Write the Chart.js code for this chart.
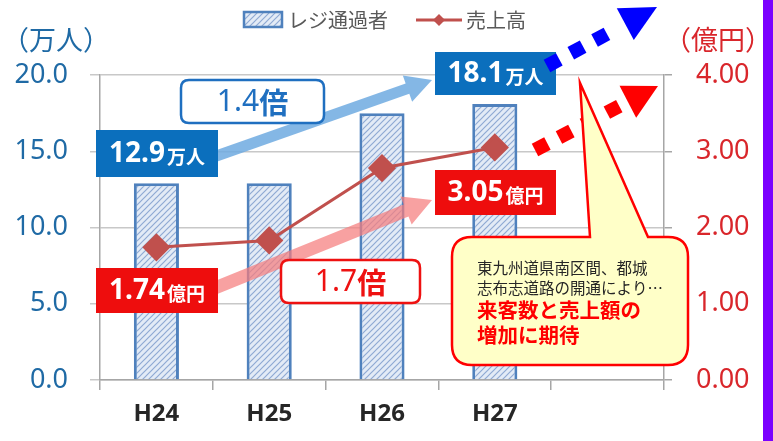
<!DOCTYPE html>
<html>
<head>
<meta charset="utf-8">
<script src="https://cdn.jsdelivr.net/npm/chart.js@4"></script>
<style>
  body { margin: 0; background: #fff; }
  #wrap { position: relative; width: 773px; height: 441px; }
  #strip { position: absolute; right: 0; top: 0; width: 10px; height: 441px; background: #7b00ff; }
</style>
</head>
<body>
<div id="wrap">
  <canvas id="chart" width="773" height="441"></canvas>
  <div id="strip"></div>
</div>
<script>
'use strict';

// chart data
var years = ['H24', 'H25', 'H26', 'H27', ''];
var visitors = [12.9, 12.9, 17.5, 18.1, null];   // 万人
var sales = [1.74, 1.83, 2.78, 3.05, null];      // 億円
var leftTicks = [0, 5, 10, 15, 20];
var rightTicks = [0, 1, 2, 3, 4];
var ratios = ['1.4', '1.7'];   // as printed on the chart

var FONT = "'Noto Sans', 'Noto Sans CJK JP', sans-serif";
var JP = "'Noto Sans CJK JP', sans-serif";

// hatched fill for the bars
function makeHatch() {
	var c = document.createElement('canvas');
	c.width = 6; c.height = 6;
	var g = c.getContext('2d');
	g.fillStyle = '#e3ebf6';
	g.fillRect(0, 0, 6, 6);
	g.strokeStyle = '#8fa9d3';
	g.lineWidth = 1.2;
	g.beginPath();
	g.moveTo(0, 6); g.lineTo(6, 0);
	g.moveTo(-1, 1); g.lineTo(1, -1);
	g.moveTo(5, 7); g.lineTo(7, 5);
	g.stroke();
	return document.getElementById('chart').getContext('2d').createPattern(c, 'repeat');
}
var hatch = makeHatch();

function roundRect(ctx, x, y, w, h, r) {
	ctx.beginPath();
	ctx.moveTo(x + r, y);
	ctx.lineTo(x + w - r, y);
	ctx.quadraticCurveTo(x + w, y, x + w, y + r);
	ctx.lineTo(x + w, y + h - r);
	ctx.quadraticCurveTo(x + w, y + h, x + w - r, y + h);
	ctx.lineTo(x + r, y + h);
	ctx.quadraticCurveTo(x, y + h, x, y + h - r);
	ctx.lineTo(x, y + r);
	ctx.quadraticCurveTo(x, y, x + r, y);
	ctx.closePath();
}

function thickArrow(ctx, x1, y1, x2, y2, w, headLen, headW, color) {
	var a = Math.atan2(y2 - y1, x2 - x1);
	var len = Math.hypot(x2 - x1, y2 - y1);
	ctx.save();
	ctx.translate(x1, y1);
	ctx.rotate(a);
	ctx.fillStyle = color;
	ctx.beginPath();
	ctx.moveTo(0, -w / 2);
	ctx.lineTo(len - headLen, -w / 2);
	ctx.lineTo(len - headLen, -headW / 2);
	ctx.lineTo(len, 0);
	ctx.lineTo(len - headLen, headW / 2);
	ctx.lineTo(len - headLen, w / 2);
	ctx.lineTo(0, w / 2);
	ctx.closePath();
	ctx.fill();
	ctx.restore();
}

function dottedArrow(ctx, x1, y1, x2, y2, sq, gap, headLen, headW, color) {
	var a = Math.atan2(y2 - y1, x2 - x1);
	var len = Math.hypot(x2 - x1, y2 - y1);
	ctx.save();
	ctx.translate(x1, y1);
	ctx.rotate(a);
	ctx.fillStyle = color;
	for (var d = 0; d + sq <= len - headLen; d += sq + gap) {
		ctx.fillRect(d, -sq / 2, sq, sq);
	}
	ctx.beginPath();
	ctx.moveTo(len - headLen, -headW / 2);
	ctx.lineTo(len, 0);
	ctx.lineTo(len - headLen, headW / 2);
	ctx.closePath();
	ctx.fill();
	ctx.restore();
}

// filled label like "12.9万人"
function valueBox(ctx, x, y, w, h, color, num, unit) {
	ctx.fillStyle = color;
	ctx.fillRect(x, y, w, h);
	ctx.fillStyle = '#fff';
	ctx.textBaseline = 'middle';
	ctx.textAlign = 'left';
	ctx.font = 'bold 28px ' + FONT;
	var nw = ctx.measureText(num).width;
	ctx.font = 'bold 19px ' + JP;
	var uw = ctx.measureText(unit).width;
	var sx = x + (w - nw - uw - 2) / 2;
	ctx.font = 'bold 28px ' + FONT;
	ctx.fillText(num, sx, y + h / 2 + 1);
	ctx.font = 'bold 19px ' + JP;
	ctx.fillText(unit, sx + nw + 2, y + h / 2 + 3);
}

function ratioBox(ctx, x, y, w, h, color, num) {
	ctx.fillStyle = '#fff';
	roundRect(ctx, x, y, w, h, 8);
	ctx.fill();
	ctx.lineWidth = 2.5;
	ctx.strokeStyle = color;
	ctx.stroke();
	ctx.fillStyle = color;
	ctx.textBaseline = 'middle';
	ctx.textAlign = 'left';
	ctx.font = '30px ' + FONT;
	var nw = ctx.measureText(num).width;
	ctx.font = 'bold 29px ' + JP;
	var kw = ctx.measureText('倍').width;
	var sx = x + (w - nw - kw) / 2;
	ctx.font = '30px ' + FONT;
	ctx.fillText(num, sx, y + h / 2 + 1);
	ctx.font = 'bold 29px ' + JP;
	ctx.fillText('倍', sx + nw, y + h / 2 + 1);
}

var decorations = {
	id: 'decorations',
	afterDraw: function(chart) {
		var ctx = chart.ctx;
		ctx.save();

		// axis unit titles
		ctx.textBaseline = 'middle';
		ctx.textAlign = 'left';
		ctx.font = '27px ' + JP;
		ctx.fillStyle = '#1f6aa5';
		ctx.fillText('（万人）', 2, 40);
		ctx.fillStyle = '#d9262b';
		ctx.fillText('（億円）', 664, 40);

		// legend
		ctx.fillStyle = hatch;
		ctx.fillRect(244, 12, 38, 15);
		ctx.strokeStyle = '#4f81bd';
		ctx.lineWidth = 2.5;
		ctx.strokeRect(244, 12, 38, 15);
		ctx.fillStyle = '#595959';
		ctx.font = '20px ' + JP;
		ctx.fillText('レジ通過者', 288, 20);
		ctx.strokeStyle = '#c0504d';
		ctx.lineWidth = 3;
		ctx.beginPath();
		ctx.moveTo(416, 20); ctx.lineTo(462, 20);
		ctx.stroke();
		ctx.fillStyle = '#c0504d';
		ctx.beginPath();
		ctx.moveTo(439, 14); ctx.lineTo(445, 20); ctx.lineTo(439, 26); ctx.lineTo(433, 20);
		ctx.closePath();
		ctx.fill();
		ctx.fillStyle = '#595959';
		ctx.fillText('売上高', 466, 20);

		// growth arrows
		thickArrow(ctx, 205, 160, 432, 80, 11, 26, 28, 'rgba(110,170,225,0.85)');
		thickArrow(ctx, 205, 292, 432, 200, 13, 28, 30, 'rgba(245,125,125,0.72)');

		// boxes
		valueBox(ctx, 96, 130, 122, 47, '#0b6fbd', visitors[0].toFixed(1), '万人');
		valueBox(ctx, 435, 52, 121, 43, '#0b6fbd', visitors[3].toFixed(1), '万人');
		valueBox(ctx, 96, 268, 122, 45, '#ee0d0d', sales[0].toFixed(2), '億円');
		valueBox(ctx, 435, 170, 121, 45, '#ee0d0d', sales[3].toFixed(2), '億円');
		ratioBox(ctx, 181, 80, 143, 43, '#1f6fc0', ratios[0]);
		ratioBox(ctx, 281, 260, 139, 43, '#ee1111', ratios[1]);

		// dotted trend arrows
		dottedArrow(ctx, 547, 66, 657, 7, 14, 13, 36, 36, '#0000ff');
		dottedArrow(ctx, 535, 150, 658, 86, 14, 13, 34, 36, '#ff0000');

		// callout
		ctx.fillStyle = '#ffffc8';
		ctx.strokeStyle = '#ff0000';
		ctx.lineWidth = 2.5;
		ctx.beginPath();
		var bx = 452, by = 237, bw = 236, bh = 128, r = 20;
		ctx.moveTo(bx + r, by);
		ctx.lineTo(590, by);
		ctx.lineTo(580, 83);
		ctx.lineTo(648, by);
		ctx.lineTo(bx + bw - r, by);
		ctx.quadraticCurveTo(bx + bw, by, bx + bw, by + r);
		ctx.lineTo(bx + bw, by + bh - r);
		ctx.quadraticCurveTo(bx + bw, by + bh, bx + bw - r, by + bh);
		ctx.lineTo(bx + r, by + bh);
		ctx.quadraticCurveTo(bx, by + bh, bx, by + bh - r);
		ctx.lineTo(bx, by + r);
		ctx.quadraticCurveTo(bx, by, bx + r, by);
		ctx.closePath();
		ctx.fill();
		ctx.stroke();

		ctx.textAlign = 'left';
		ctx.textBaseline = 'middle';
		ctx.fillStyle = '#262626';
		ctx.font = '15.5px ' + JP;
		ctx.fillText('東九州道県南区間、都城', 477, 268);
		ctx.fillText('志布志道路の開通により…', 477, 288);
		ctx.fillStyle = '#ff0000';
		ctx.font = 'bold 20.5px ' + JP;
		ctx.fillText('来客数と売上額の', 477, 310);
		ctx.fillText('増加に期待', 477, 335);

		ctx.restore();
	}
};

var config = {
	type: 'bar',
	data: {
		labels: years,
		datasets: [{
			type: 'line',
			label: '売上高',
			data: sales,
			yAxisID: 'y1',
			borderColor: '#c0504d',
			backgroundColor: '#c0504d',
			borderWidth: 3,
			pointStyle: 'rectRot',
			pointRadius: 12,
			pointBackgroundColor: '#c0504d',
			pointBorderColor: '#c0504d',
			order: 1
		}, {
			type: 'bar',
			label: 'レジ通過者',
			data: visitors,
			yAxisID: 'y',
			backgroundColor: hatch,
			borderColor: '#4f81bd',
			borderWidth: 3,
			barPercentage: 0.4,
			categoryPercentage: 1,
			order: 2
		}]
	},
	options: {
		responsive: false,
		animation: false,
		devicePixelRatio: 1,
		layout: { padding: { top: 75, left: 0, right: 0, bottom: 0 } },
		plugins: {
			legend: { display: false },
			tooltip: { enabled: false }
		},
		scales: {
			x: {
				offset: true,
				grid: { offset: true, drawOnChartArea: false, drawTicks: true, tickLength: 10, color: '#a6a6a6', lineWidth: 1.5 },
				border: { color: '#a6a6a6', width: 1.5 },
				ticks: { color: '#262626', font: { family: FONT, size: 24, weight: 'bold' }, padding: 10 },
				afterFit: function(s) { s.height = 61; }
			},
			y: {
				position: 'left',
				min: 0, max: 20,
				afterBuildTicks: function(s) { s.ticks = leftTicks.map(function(v) { return { value: v }; }); },
				grid: { color: '#c8c8c8', lineWidth: 1.5, tickLength: 10 },
				border: { color: '#a6a6a6', width: 1.5 },
				ticks: {
					color: '#1f6aa5', padding: 22,
					font: { family: FONT, size: 27 },
					callback: function(v) { return v.toFixed(1); }
				},
				afterFit: function(s) { s.width = 100; }
			},
			y1: {
				position: 'right',
				min: 0, max: 4,
				afterBuildTicks: function(s) { s.ticks = rightTicks.map(function(v) { return { value: v }; }); },
				grid: { drawOnChartArea: false, color: '#a6a6a6', lineWidth: 1.5, tickLength: 8 },
				border: { color: '#a6a6a6', width: 1.5 },
				ticks: {
					color: '#d9262b', padding: 24,
					font: { family: FONT, size: 27 },
					callback: function(v) { return v.toFixed(2); }
				},
				afterFit: function(s) { s.width = 109; }
			}
		}
	},
	plugins: [decorations]
};

window.myChart = new Chart(document.getElementById('chart').getContext('2d'), config);
</script>
</body>
</html>
